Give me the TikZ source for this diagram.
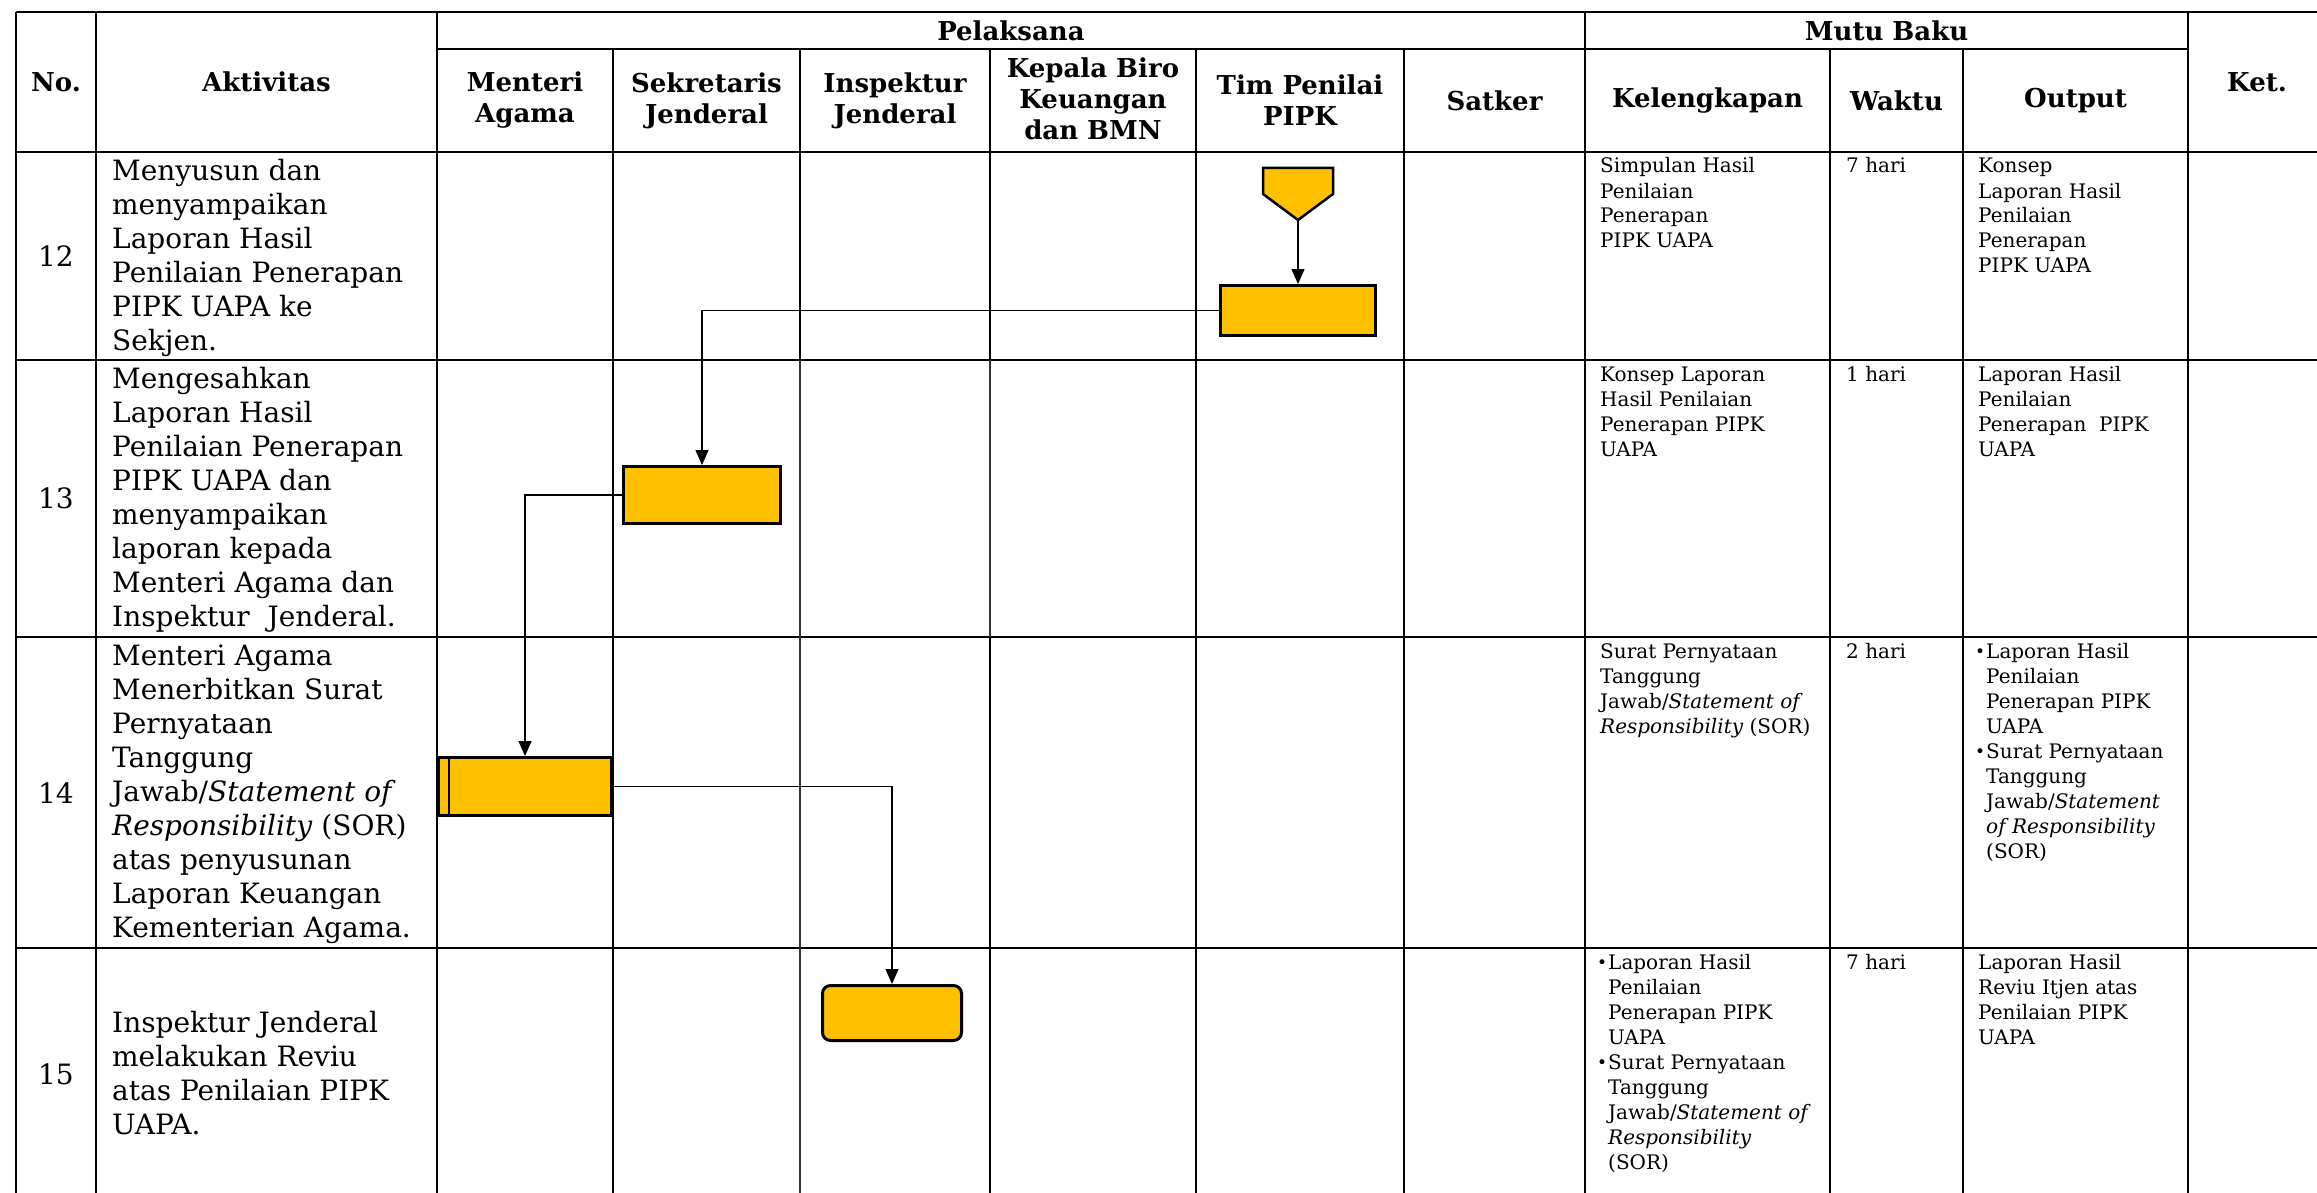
\documentclass[tikz,border=0pt]{standalone}
\usepackage{fontspec}
\setmainfont{DejaVu Serif}
\usetikzlibrary{arrows.meta}
\definecolor{amber}{HTML}{FFC000}
\newcommand\myBul{\makebox[11pt][l]{\raisebox{0.5pt}{\fontsize{17}{17}\selectfont\textbullet}}}
\newcommand\myInd{\hspace*{11pt}}
\begin{document}
\begin{tikzpicture}[x=1pt,y=-1pt,
  grid/.style={line width=2.5pt, black},
  thingrid/.style={line width=1.3pt, black!80},
  proc/.style={draw=black, line width=3pt, fill=amber, inner sep=0pt},
  conn/.style={line width=1.3pt, -{Triangle[length=15pt,width=13pt]}},
  hdr/.style={font=\bfseries\fontsize{26}{31}\selectfont, align=center, inner sep=0pt},
  act/.style={font=\fontsize{28}{34}\selectfont, align=left, anchor=west, inner sep=0pt},
  num/.style={font=\fontsize{28}{34}\selectfont, inner sep=0pt},
  cell/.style={anchor=base west, inner sep=0pt, font=\fontsize{20}{25}\selectfont}]
\clip (0,0) rectangle (2317,1193);
\fill[white] (0,0) rectangle (2317,1193);

% ---------- grid ----------
\draw[grid] (16,12) -- (2340,12);
\draw[grid] (437,49) -- (2188,49);
\draw[grid] (16,152) -- (2340,152);
\draw[grid] (16,360) -- (2340,360);
\draw[grid] (16,637) -- (2340,637);
\draw[grid] (16,948) -- (2340,948);
\foreach \x in {16,96,437,1585,2188} \draw[grid] (\x,12) -- (\x,1210);
\foreach \x in {613,1196,1404,1830,1963} \draw[grid] (\x,49) -- (\x,1210);
\draw[grid] (800,49) -- (800,360);
\draw[thingrid] (800,360) -- (800,1210);
\draw[grid] (990,49) -- (990,360);
\draw[thingrid] (990,360) -- (990,637);
\draw[grid] (990,637) -- (990,1210);

% ---------- header ----------
\node[hdr] (hNo) at (56,82) {No.};
\node[hdr] (hAkt) at (266.5,82) {Aktivitas};
\node[hdr] (hPel) at (1011,31) {Pelaksana};
\node[hdr] (hMutu) at (1886.5,31) {Mutu Baku};
\node[hdr] (hKet) at (2257,82) {Ket.};
\node[hdr] (hMA) at (525,100.5) {Menteri\\Agama};
\node[hdr] (hSJ) at (706.5,100.5) {Sekretaris\\Jenderal};
\node[hdr] (hIJ) at (895,100.5) {Inspektur\\Jenderal};
\node[hdr] (hKB) at (1093,99) {Kepala Biro\\Keuangan\\dan BMN};
\node[hdr] (hTP) at (1300,100.5) {Tim Penilai\\PIPK};
\node[hdr] (hSat) at (1494.5,100.5) {Satker};
\node[hdr] (hKel) at (1707.5,100.5) {Kelengkapan};
\node[hdr] (hWak) at (1896.5,100.5) {Waktu};
\node[hdr] (hOut) at (2075.5,100.5) {Output};

% ---------- numbers ----------
\node[num] (n12) at (56,256) {12};
\node[num] (n13) at (56,498) {13};
\node[num] (n14) at (56,793) {14};
\node[num] (n15) at (56,1074) {15};

% ---------- aktivitas ----------
\node[act] (a12) at (112,257.5) {Menyusun dan\\menyampaikan\\Laporan Hasil\\Penilaian Penerapan\\PIPK UAPA ke\\Sekjen.};
\node[act] (a13) at (112,500) {Mengesahkan\\Laporan Hasil\\Penilaian Penerapan\\PIPK UAPA dan\\menyampaikan\\laporan kepada\\Menteri Agama dan\\Inspektur\ \ Jenderal.};
\node[act] (a14) at (112,794) {Menteri Agama\\Menerbitkan Surat\\Pernyataan\\Tanggung\\Jawab/\textit{Statement of}\\\textit{Responsibility} (SOR)\\atas penyusunan\\Laporan Keuangan\\Kementerian Agama.};
\node[act] (a15) at (112,1073) {Inspektur Jenderal\\melakukan Reviu\\atas Penilaian PIPK\\UAPA.};

% ---------- mutu baku ----------
\node[cell] (k12) at (1600,173) {\parbox[t]{225pt}{\raggedright Simpulan Hasil\\Penilaian\\Penerapan\\PIPK UAPA}};
\node[cell] (w12) at (1846,173) {7 hari};
\node[cell] (o12) at (1978,173) {\parbox[t]{205pt}{\raggedright Konsep\\Laporan Hasil\\Penilaian\\Penerapan\\PIPK UAPA}};

\node[cell] (k13) at (1600,381) {\parbox[t]{225pt}{\raggedright Konsep Laporan\\Hasil Penilaian\\Penerapan PIPK\\UAPA}};
\node[cell] (w13) at (1846,381) {1 hari};
\node[cell] (o13) at (1978,381) {\parbox[t]{205pt}{\raggedright Laporan Hasil\\Penilaian\\Penerapan\ \ PIPK\\UAPA}};

\node[cell] (k14) at (1600,658) {\parbox[t]{225pt}{\raggedright Surat Pernyataan\\Tanggung\\Jawab/\textit{Statement of}\\\textit{Responsibility} (SOR)}};
\node[cell] (w14) at (1846,658) {2 hari};
\node[cell] (o14) at (1975,658) {\parbox[t]{210pt}{\raggedright \myBul Laporan Hasil\\\myInd Penilaian\\\myInd Penerapan PIPK\\\myInd UAPA\\\myBul Surat Pernyataan\\\myInd Tanggung\\\myInd Jawab/\textit{Statement}\\\myInd \textit{of Responsibility}\\\myInd (SOR)}};

\node[cell] (k15) at (1597,969) {\parbox[t]{230pt}{\raggedright \myBul Laporan Hasil\\\myInd Penilaian\\\myInd Penerapan PIPK\\\myInd UAPA\\\myBul Surat Pernyataan\\\myInd Tanggung\\\myInd Jawab/\textit{Statement of}\\\myInd \textit{Responsibility}\\\myInd (SOR)}};
\node[cell] (w15) at (1846,969) {7 hari};
\node[cell] (o15) at (1978,969) {\parbox[t]{205pt}{\raggedright Laporan Hasil\\Reviu Itjen atas\\Penilaian PIPK\\UAPA}};

% ---------- flow shapes ----------
\node[minimum width=70pt, minimum height=52pt, inner sep=0pt, outer sep=0pt] (op) at (1298,194) {};
\draw[line width=2.5pt, fill=amber, line join=miter] (op.north west) -- (op.north east) -- (op.east) -- (op.south) -- (op.west) -- cycle;
\node[proc, minimum width=155pt, minimum height=50pt] (r12) at (1298,310.5) {};
\node[proc, minimum width=157pt, minimum height=57pt] (r13) at (702,495) {};
\node[proc, minimum width=173pt, minimum height=58pt] (r14) at (525,786.5) {};
\draw[line width=2.5pt] ([xshift=12pt,yshift=-1.5pt]r14.north west) -- ([xshift=12pt,yshift=1.5pt]r14.south west);
\node[proc, rounded corners=8pt, minimum width=139pt, minimum height=55pt] (r15) at (892,1013) {};

% ---------- connectors ----------
\draw[conn] (op.south) -- (r12.north);
\draw[conn] (r12.west) -| (r13.north);
\draw[conn] (r13.west) -| (r14.north);
\draw[conn] (r14.east) -| (r15.north);
\end{tikzpicture}
\end{document}
